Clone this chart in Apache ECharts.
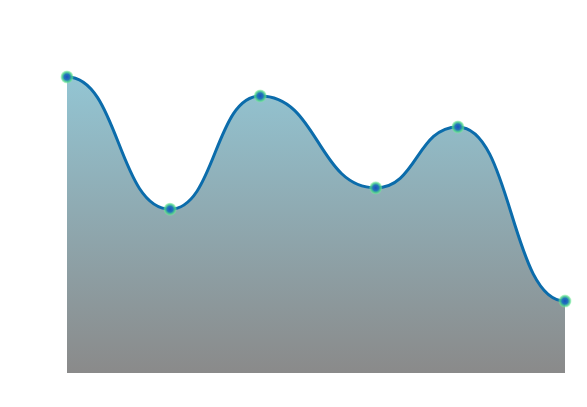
<!DOCTYPE html>
<html>
<head>
<meta charset="utf-8">
<script src="https://cdn.jsdelivr.net/npm/echarts@6/dist/echarts.min.js"></script>
<style>
html,body{margin:0;padding:0;background:#fff;}
#main{width:587px;height:407px;}
</style>
</head>
<body>
<div id="main"></div>
<script>
// Data
var xValues = [0, 20.7, 38.8, 62.0, 78.5, 100];
var yValues = [88.9, 49.2, 83.2, 55.6, 73.9, 21.6];

var points = xValues.map(function (x, i) { return [x, yValues[i]]; });

// horizontal-tangent ("bump") curve through the projected points
function curvePath(api, close) {
  var pts = points.map(function (p) { return api.coord(p); });
  var d = 'M' + pts[0][0] + ',' + pts[0][1];
  for (var i = 1; i < pts.length; i++) {
    var a = pts[i - 1], b = pts[i];
    var mx = (a[0] + b[0]) / 2;
    d += 'C' + mx + ',' + a[1] + ',' + mx + ',' + b[1] + ',' + b[0] + ',' + b[1];
  }
  if (close) {
    var baseY = api.coord([0, 0])[1];
    d += 'L' + pts[pts.length - 1][0] + ',' + baseY + 'L' + pts[0][0] + ',' + baseY + 'Z';
  }
  return d;
}

var chart = echarts.init(document.getElementById('main'), null, {renderer: 'canvas'});
chart.setOption({
  animation: false,
  backgroundColor: '#ffffff',
  grid: {left: 67, right: 22, top: 40, bottom: 34},
  xAxis: {type: 'value', min: 0, max: 100, show: false},
  yAxis: {type: 'value', min: 0, max: 100, show: false},
  series: [{
    type: 'custom',
    data: points,
    z: 1,
    renderItem: function (params, api) {
      if (params.dataIndex !== 0) return null;
      return {
        type: 'group',
        children: [{
          type: 'path',
          shape: {pathData: curvePath(api, true)},
          style: {
            fill: new echarts.graphic.LinearGradient(0, 0, 0, 1, [
              {offset: 0, color: '#93c5d3'},
              {offset: 1, color: '#8a8a8a'}
            ]),
            stroke: null
          }
        }, {
          type: 'path',
          shape: {pathData: curvePath(api, false)},
          style: {fill: null, stroke: '#0b6cab', lineWidth: 3}
        }]
      };
    }
  }, {
    type: 'scatter',
    data: points,
    symbol: 'circle',
    symbolSize: 13,
    z: 3,
    itemStyle: {
      color: new echarts.graphic.RadialGradient(0.5, 0.5, 0.5, [
        {offset: 0, color: '#1f4fc0'},
        {offset: 0.45, color: '#2278b8'},
        {offset: 0.75, color: 'rgba(70,205,140,0.85)'},
        {offset: 1, color: 'rgba(120,240,150,0.4)'}
      ]),
      borderWidth: 0,
      opacity: 1
    }
  }]
});
</script>
</body>
</html>
